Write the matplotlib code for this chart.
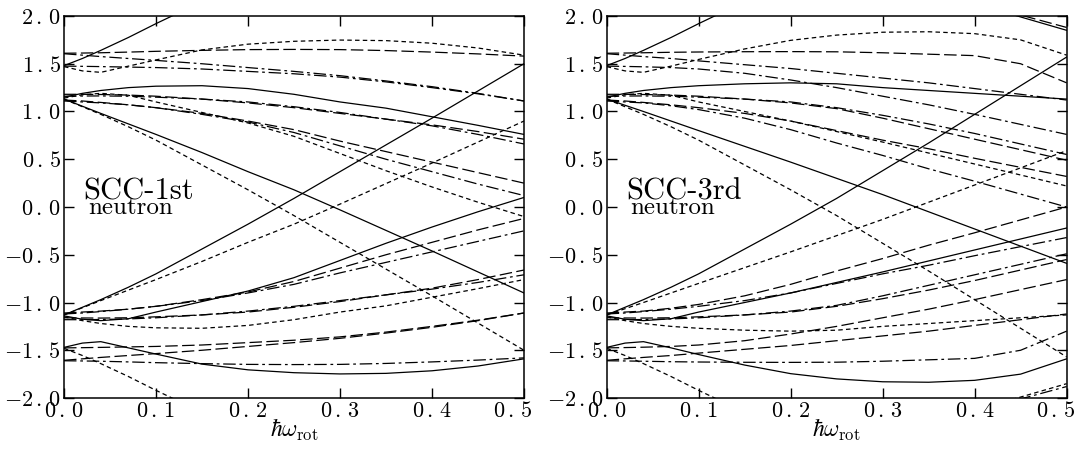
import matplotlib
matplotlib.use("Agg")
import matplotlib.pyplot as plt
import matplotlib.transforms as mtransforms

plt.rcParams['mathtext.fontset'] = 'cm'

# rotational frequency grid shared by all curves
w = [0, 0.02, 0.04, 0.07, 0.1, 0.15, 0.2, 0.25, 0.3, 0.35, 0.4, 0.45, 0.5]
w_top = [0.4, 0.45, 0.5]

# ---- SCC-1st, positive-energy branches
l_steep = [1.48, 1.555, 1.64, 1.775, 1.92, 2.15, 2.38, 2.61, 2.84, 3.07, 3.3, 3.53, 3.76]
l_u2 = [1.61, 1.612, 1.615, 1.622, 1.63, 1.64, 1.648, 1.65, 1.648, 1.638, 1.622, 1.603, 1.58]
l_u3 = [1.47, 1.425, 1.41, 1.475, 1.54, 1.645, 1.705, 1.735, 1.748, 1.742, 1.715, 1.665, 1.59]
l_u4 = [1.605, 1.59, 1.575, 1.555, 1.535, 1.50, 1.46, 1.42, 1.375, 1.32, 1.26, 1.19, 1.11]
l_u5 = [1.475, 1.473, 1.47, 1.465, 1.46, 1.445, 1.42, 1.395, 1.36, 1.31, 1.25, 1.185, 1.11]
l_m1 = [1.15, 1.19, 1.22, 1.25, 1.265, 1.27, 1.24, 1.18, 1.10, 1.035, 0.945, 0.855, 0.76]
l_sd = [1.13, 1.055, 0.98, 0.87, 0.76, 0.57, 0.37, 0.18, -0.03, -0.245, -0.46, -0.68, -0.90]
l_ds = [1.13, 1.05, 0.97, 0.84, 0.70, 0.44, 0.18, -0.09, -0.37, -0.65, -0.93, -1.215, -1.50]
l_m4 = [1.14, 1.175, 1.19, 1.17, 1.10, 0.99, 0.88, 0.74, 0.56, 0.38, 0.21, 0.05, -0.10]
l_a = [1.16, 1.162, 1.163, 1.16, 1.15, 1.13, 1.10, 1.05, 0.99, 0.92, 0.85, 0.76, 0.66]
l_b = [1.18, 1.18, 1.178, 1.172, 1.16, 1.13, 1.09, 1.04, 0.98, 0.92, 0.86, 0.79, 0.71]
l_c = [1.11, 1.10, 1.09, 1.07, 1.04, 0.97, 0.89, 0.78, 0.64, 0.50, 0.37, 0.24, 0.12]
l_d = [1.12, 1.11, 1.095, 1.07, 1.04, 0.98, 0.90, 0.81, 0.69, 0.58, 0.47, 0.36, 0.25]

# ---- SCC-1st, negative-energy branches
l_steep_n = [-1.48, -1.555, -1.64, -1.775, -1.92, -2.15, -2.38, -2.61, -2.84, -3.07, -3.3, -3.53, -3.76]
l_u2_n = [-1.61, -1.612, -1.615, -1.622, -1.63, -1.64, -1.648, -1.65, -1.648, -1.638, -1.622, -1.603, -1.58]
l_u3_n = [-1.47, -1.425, -1.41, -1.475, -1.54, -1.645, -1.705, -1.735, -1.748, -1.742, -1.715, -1.665, -1.59]
l_u4_n = [-1.605, -1.59, -1.575, -1.555, -1.535, -1.50, -1.46, -1.42, -1.375, -1.32, -1.26, -1.19, -1.11]
l_u5_n = [-1.475, -1.473, -1.47, -1.465, -1.46, -1.445, -1.42, -1.395, -1.36, -1.31, -1.25, -1.185, -1.11]
l_m1_n = [-1.15, -1.19, -1.22, -1.25, -1.265, -1.27, -1.24, -1.18, -1.10, -1.035, -0.945, -0.855, -0.76]
l_sd_n = [-1.13, -1.055, -0.98, -0.87, -0.76, -0.57, -0.37, -0.18, 0.03, 0.245, 0.46, 0.68, 0.90]
l_ds_n = [-1.13, -1.05, -0.97, -0.84, -0.70, -0.44, -0.18, 0.09, 0.37, 0.65, 0.93, 1.215, 1.50]
l_m4_n = [-1.14, -1.175, -1.19, -1.17, -1.10, -0.99, -0.88, -0.74, -0.56, -0.38, -0.21, -0.05, 0.10]
l_a_n = [-1.16, -1.162, -1.163, -1.16, -1.15, -1.13, -1.10, -1.05, -0.99, -0.92, -0.85, -0.76, -0.66]
l_b_n = [-1.18, -1.18, -1.178, -1.172, -1.16, -1.13, -1.09, -1.04, -0.98, -0.92, -0.86, -0.79, -0.71]
l_c_n = [-1.11, -1.10, -1.09, -1.07, -1.04, -0.97, -0.89, -0.78, -0.64, -0.50, -0.37, -0.24, -0.12]
l_d_n = [-1.12, -1.11, -1.095, -1.07, -1.04, -0.98, -0.90, -0.81, -0.69, -0.58, -0.47, -0.36, -0.25]

# ---- SCC-3rd, positive-energy branches
r_steep = [1.48, 1.555, 1.64, 1.775, 1.92, 2.15, 2.38, 2.61, 2.84, 3.07, 3.3, 3.53, 3.76]
r_u2 = [1.61, 1.612, 1.615, 1.62, 1.623, 1.626, 1.627, 1.625, 1.615, 1.60, 1.585, 1.50, 1.30]
r_u3 = [1.47, 1.425, 1.41, 1.475, 1.545, 1.655, 1.745, 1.80, 1.83, 1.835, 1.815, 1.75, 1.59]
r_u4 = [1.605, 1.59, 1.575, 1.555, 1.53, 1.49, 1.45, 1.40, 1.35, 1.30, 1.24, 1.18, 1.12]
r_u5 = [1.475, 1.472, 1.468, 1.46, 1.445, 1.40, 1.33, 1.25, 1.16, 1.07, 0.97, 0.865, 0.76]
r_m1 = [1.15, 1.19, 1.22, 1.25, 1.27, 1.29, 1.30, 1.29, 1.25, 1.22, 1.19, 1.16, 1.13]
r_sd = [1.13, 1.065, 1.0, 0.90, 0.80, 0.635, 0.47, 0.30, 0.13, -0.05, -0.23, -0.41, -0.59]
r_ds = [1.13, 1.05, 0.97, 0.84, 0.70, 0.44, 0.18, -0.09, -0.38, -0.67, -0.97, -1.27, -1.57]
r_m4 = [1.14, 1.175, 1.19, 1.17, 1.10, 1.0, 0.90, 0.79, 0.68, 0.565, 0.45, 0.335, 0.22]
r_a = [1.16, 1.162, 1.163, 1.16, 1.15, 1.13, 1.10, 1.04, 0.96, 0.87, 0.77, 0.66, 0.55]
r_b = [1.18, 1.18, 1.178, 1.172, 1.16, 1.13, 1.09, 1.03, 0.93, 0.82, 0.71, 0.60, 0.49]
r_c = [1.11, 1.10, 1.09, 1.06, 1.02, 0.93, 0.81, 0.67, 0.54, 0.40, 0.27, 0.135, 0.0]
r_d = [1.12, 1.11, 1.095, 1.07, 1.04, 0.98, 0.90, 0.80, 0.70, 0.61, 0.51, 0.415, 0.32]
r_t1 = [2.13, 1.99, 1.85]
r_t2 = [2.15, 2.01, 1.88]

# ---- SCC-3rd, negative-energy branches
r_steep_n = [-1.48, -1.555, -1.64, -1.775, -1.92, -2.15, -2.38, -2.61, -2.84, -3.07, -3.3, -3.53, -3.76]
r_u2_n = [-1.61, -1.612, -1.615, -1.62, -1.623, -1.626, -1.627, -1.625, -1.615, -1.60, -1.585, -1.50, -1.30]
r_u3_n = [-1.47, -1.425, -1.41, -1.475, -1.545, -1.655, -1.745, -1.80, -1.83, -1.835, -1.815, -1.75, -1.59]
r_u4_n = [-1.605, -1.59, -1.575, -1.555, -1.53, -1.49, -1.45, -1.40, -1.35, -1.30, -1.24, -1.18, -1.12]
r_u5_n = [-1.475, -1.472, -1.468, -1.46, -1.445, -1.40, -1.33, -1.25, -1.16, -1.07, -0.97, -0.865, -0.76]
r_m1_n = [-1.15, -1.19, -1.22, -1.25, -1.27, -1.29, -1.30, -1.29, -1.25, -1.22, -1.19, -1.16, -1.13]
r_sd_n = [-1.13, -1.065, -1.0, -0.90, -0.80, -0.635, -0.47, -0.30, -0.13, 0.05, 0.23, 0.41, 0.59]
r_ds_n = [-1.13, -1.05, -0.97, -0.84, -0.70, -0.44, -0.18, 0.09, 0.38, 0.67, 0.97, 1.27, 1.57]
r_m4_n = [-1.14, -1.175, -1.19, -1.17, -1.10, -1.0, -0.90, -0.79, -0.68, -0.565, -0.45, -0.335, -0.22]
r_a_n = [-1.16, -1.162, -1.163, -1.16, -1.15, -1.13, -1.10, -1.04, -0.96, -0.87, -0.77, -0.66, -0.55]
r_b_n = [-1.18, -1.18, -1.178, -1.172, -1.16, -1.13, -1.09, -1.03, -0.93, -0.82, -0.71, -0.60, -0.49]
r_c_n = [-1.11, -1.10, -1.09, -1.06, -1.02, -0.93, -0.81, -0.67, -0.54, -0.40, -0.27, -0.135, 0.0]
r_d_n = [-1.12, -1.11, -1.095, -1.07, -1.04, -0.98, -0.90, -0.80, -0.70, -0.61, -0.51, -0.415, -0.32]
r_t1_n = [-2.13, -1.99, -1.85]
r_t2_n = [-2.15, -2.01, -1.88]

xticks = [0.0, 0.1, 0.2, 0.3, 0.4, 0.5]
yticks = [-2.0, -1.5, -1.0, -0.5, 0.0, 0.5, 1.0, 1.5, 2.0]
panel_names = ['SCC-1st', 'SCC-3rd']

# line styles: solid, short dash, long dash, dash-dot
SOL = dict(ls='-')
SHD = dict(dashes=(3.6, 2.6))
LGD = dict(dashes=(10, 3.5))
DDT = dict(dashes=(10, 3, 2.2, 3))

left_curves = [
    (l_steep, SOL), (l_u2, LGD), (l_u3, SHD), (l_u4, DDT), (l_u5, DDT), (l_m1, SOL),
    (l_sd, SOL), (l_ds, SHD), (l_m4, SHD), (l_a, DDT), (l_b, LGD), (l_c, DDT), (l_d, LGD),
    (l_steep_n, SHD), (l_u2_n, DDT), (l_u3_n, SOL), (l_u4_n, LGD), (l_u5_n, LGD), (l_m1_n, SHD),
    (l_sd_n, SHD), (l_ds_n, SOL), (l_m4_n, SOL), (l_a_n, LGD), (l_b_n, DDT), (l_c_n, LGD), (l_d_n, DDT),
]
right_curves = [
    (r_steep, SOL), (r_u2, LGD), (r_u3, SHD), (r_u4, DDT), (r_u5, DDT), (r_m1, SOL),
    (r_sd, SOL), (r_ds, SHD), (r_m4, SHD), (r_a, DDT), (r_b, LGD), (r_c, DDT), (r_d, LGD),
    (r_steep_n, SHD), (r_u2_n, DDT), (r_u3_n, SOL), (r_u4_n, LGD), (r_u5_n, LGD), (r_m1_n, SHD),
    (r_sd_n, SHD), (r_ds_n, SOL), (r_m4_n, SOL), (r_a_n, LGD), (r_b_n, DDT), (r_c_n, LGD), (r_d_n, DDT),
]
right_top = [(r_t1, SOL), (r_t2, LGD), (r_t1_n, SHD), (r_t2_n, DDT)]


def tick_text(v):
    s = '%.1f' % abs(v)
    s = s.replace('.', r'\,.\,')
    if v < 0:
        s = '-' + s
    return '$' + s + '$'


fig = plt.figure(figsize=(10.81, 4.53), dpi=100)
ax1 = fig.add_axes([0.0592, 0.1214, 0.4255, 0.8433])
ax2 = fig.add_axes([0.5612, 0.1214, 0.4255, 0.8433])

for ax, curves, name in [(ax1, left_curves, panel_names[0]), (ax2, right_curves, panel_names[1])]:
    for ys, st in curves:
        ax.plot(w, ys, color='black', lw=0.9, **st)
    if ax is ax2:
        for ys, st in right_top:
            ax.plot(w_top, ys, color='black', lw=0.9, **st)
    ax.set_xlim(0, 0.5)
    ax.set_ylim(-2.0, 2.0)
    ax.set_xticks(xticks)
    ax.set_xticklabels([tick_text(v) for v in xticks])
    ax.set_yticks(yticks)
    ax.set_yticklabels([tick_text(v) for v in yticks])
    ax.tick_params(direction='in', top=True, right=True, length=7, width=1,
                   labelsize=16, pad=2)
    for sp in ax.spines.values():
        sp.set_linewidth(1.1)
    # last x label is pulled left a little so it stays on the page
    last = ax.get_xticklabels()[-1]
    shift = mtransforms.ScaledTranslation(-8 / 72, 0, fig.dpi_scale_trans)
    last.set_transform(last.get_transform() + shift)
    ax.set_xlabel(r'$\hbar\omega_{\rm rot}$', fontsize=17, labelpad=-3)
    ax.text(0.021, 0.08, name, family='cmr10', fontsize=22)
    ax.text(0.026, -0.075, 'neutron', family='cmr10', fontsize=18)

fig.savefig('out.png', dpi=100)
